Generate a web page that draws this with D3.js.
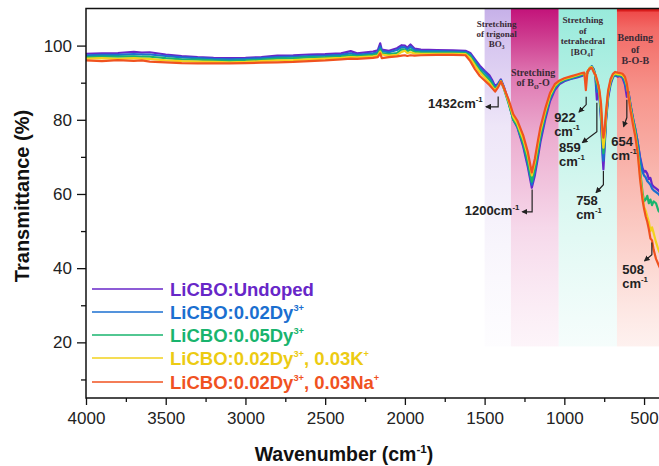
<!DOCTYPE html>
<html>
<head>
<meta charset="utf-8">
<script src="https://cdn.jsdelivr.net/npm/d3@7"></script>
<style>
  body { margin: 0; background: #fff; }
  svg { display: block; font-family: "Liberation Sans", Arial, sans-serif; }
</style>
</head>
<body>
<div id="chart"></div>
<script>
// FTIR spectra, wavenumber in cm-1 (descending) and transmittance in %
var wavenumber = [4000, 3900, 3800, 3700, 3650, 3600, 3500, 3400, 3300, 3200, 3100, 3000, 2900, 2800, 2700, 2600, 2500, 2400, 2340, 2300,
    2200, 2170, 2155, 2145, 2100, 2050, 2020, 2000, 1985, 1965, 1940, 1900, 1800, 1700, 1620, 1590, 1560, 1530, 1500, 1470,
    1450, 1434, 1415, 1398, 1380, 1350, 1320, 1295, 1258, 1230, 1204, 1185, 1165, 1150, 1120, 1090, 1060, 1030, 1000, 960,
    920, 890, 875, 865, 855, 840, 828, 815, 805, 796, 790, 780, 770, 760, 755, 748, 738, 725, 710, 695,
    681, 665, 650, 635, 620, 608, 598, 585, 570, 555, 540, 525, 510, 500, 490, 480, 470, 460, 450, 440,
    425, 410, 400];

var undoped = [97.8, 97.9, 98.0, 98.3, 98.1, 98.2, 97.6, 97.2, 96.9, 96.7, 96.6, 96.7, 96.9, 97.3, 97.4, 97.6, 97.7, 97.9, 98.5, 97.9,
    98.4, 98.7, 100.6, 98.9, 98.6, 99.3, 100.1, 100.0, 99.4, 100.3, 99.2, 98.9, 98.8, 98.7, 98.6, 98.0, 96.3, 94.6, 93.2, 92.0,
    90.5, 89.0, 89.8, 90.9, 89.0, 85.0, 80.0, 78.0, 72.8, 67.5, 61.7, 65.0, 70.0, 74.0, 80.0, 85.0, 88.0, 89.6, 90.4, 91.0,
    91.4, 91.8, 92.2, 91.5, 92.8, 93.8, 94.4, 93.6, 91.5, 85.4, 90.0, 86.5, 80.0, 70.0, 66.6, 72.0, 80.0, 86.0, 89.5, 91.5,
    92.0, 91.6, 91.8, 91.3, 89.5, 86.2, 87.5, 84.0, 80.5, 77.5, 74.0, 70.0, 67.0, 66.0, 66.2, 65.5, 64.0, 64.3, 62.5, 62.0,
    61.5, 61.0, 60.5];

var dy002 = [97.4, 97.5, 97.5, 97.7, 97.6, 97.6, 97.2, 96.8, 96.6, 96.4, 96.3, 96.4, 96.6, 96.9, 97.0, 97.2, 97.3, 97.5, 97.9, 97.5,
    97.9, 98.2, 99.8, 98.5, 98.2, 98.8, 99.6, 99.5, 99.0, 99.7, 98.8, 98.6, 98.5, 98.4, 98.3, 97.6, 95.8, 94.0, 92.8, 91.4,
    90.0, 88.6, 89.5, 90.7, 88.8, 84.8, 80.0, 78.2, 73.3, 68.3, 62.5, 66.0, 71.0, 75.0, 80.8, 85.6, 88.4, 89.9, 90.6, 91.1,
    91.6, 92.0, 92.4, 91.5, 92.9, 93.9, 94.4, 93.5, 91.8, 87.5, 89.8, 86.8, 81.0, 72.0, 69.0, 73.0, 80.5, 86.5, 90.0, 91.6,
    92.1, 91.8, 91.9, 91.5, 90.0, 88.0, 87.5, 84.0, 80.5, 77.5, 74.0, 69.5, 66.0, 65.0, 64.5, 63.5, 63.0, 62.5, 61.5, 61.0,
    60.5, 60.0, 59.5];

var dy005 = [96.9, 97.0, 97.0, 97.1, 97.0, 97.0, 96.6, 96.3, 96.2, 96.0, 95.9, 96.0, 96.2, 96.5, 96.6, 96.8, 96.9, 97.1, 97.4, 97.2,
    97.5, 97.8, 99.0, 98.0, 97.7, 98.0, 99.0, 98.9, 98.4, 99.0, 98.3, 98.2, 98.1, 98.1, 98.0, 97.2, 95.2, 93.4, 92.0, 90.8,
    89.4, 88.2, 89.2, 90.5, 88.5, 84.5, 80.0, 78.4, 73.8, 69.0, 63.3, 67.0, 72.0, 76.0, 81.5, 86.0, 88.8, 90.1, 90.8, 91.3,
    91.8, 92.2, 92.5, 91.0, 92.9, 93.9, 94.3, 93.2, 92.0, 89.5, 89.5, 87.0, 82.0, 74.0, 71.0, 74.0, 81.0, 87.0, 90.2, 91.8,
    92.3, 92.0, 92.0, 91.8, 90.8, 89.0, 87.0, 83.5, 80.0, 77.0, 72.5, 66.5, 60.5, 58.0, 58.5, 59.5, 57.5, 58.5, 57.0, 58.0,
    57.5, 55.5, 55.0];

var dyK = [96.5, 96.6, 96.4, 96.6, 96.5, 96.4, 96.0, 95.8, 95.7, 95.6, 95.5, 95.6, 95.8, 96.0, 96.1, 96.3, 96.5, 96.7, 96.9, 96.8,
    97.1, 97.3, 98.4, 97.6, 97.3, 97.5, 98.3, 98.6, 98.0, 98.2, 97.9, 97.8, 97.8, 97.8, 97.7, 96.6, 94.6, 92.8, 91.4, 90.0,
    88.8, 87.9, 89.0, 90.4, 88.6, 85.0, 80.8, 79.0, 74.8, 70.5, 65.0, 68.5, 73.5, 77.0, 82.2, 86.6, 89.2, 90.4, 91.0, 91.5,
    92.0, 92.4, 92.6, 90.5, 93.0, 94.0, 94.2, 93.0, 92.0, 90.5, 89.8, 87.5, 83.0, 75.0, 72.5, 75.0, 81.5, 87.5, 90.5, 92.0,
    92.5, 92.3, 92.2, 92.0, 91.2, 89.5, 86.8, 83.0, 79.5, 76.0, 71.5, 65.0, 59.5, 56.5, 55.5, 54.0, 52.5, 50.0, 51.0, 49.5,
    47.0, 45.0, 44.0];

var dyNa = [96.0, 95.8, 96.1, 95.9, 96.0, 95.7, 95.5, 95.3, 95.2, 95.2, 95.2, 95.3, 95.4, 95.5, 95.6, 95.8, 96.0, 96.3, 96.5, 96.4,
    96.7, 96.9, 97.9, 96.6, 96.9, 97.1, 97.3, 97.4, 97.2, 97.4, 97.3, 97.4, 97.5, 97.5, 97.4, 95.8, 93.6, 91.8, 90.6, 89.4,
    88.4, 87.6, 88.8, 90.3, 88.7, 85.5, 81.5, 79.8, 75.8, 71.5, 65.8, 69.5, 74.5, 78.0, 83.0, 87.2, 89.6, 90.6, 91.2, 91.7,
    92.2, 92.6, 92.7, 88.0, 93.0, 93.9, 94.0, 92.8, 92.2, 91.0, 90.0, 88.0, 84.5, 77.0, 75.2, 77.0, 82.5, 88.0, 91.0, 92.4,
    92.9, 92.7, 92.6, 92.4, 91.6, 89.8, 86.5, 82.5, 78.8, 75.5, 71.0, 64.0, 58.5, 56.0, 54.0, 52.5, 50.5, 48.0, 47.5, 45.0,
    42.5, 41.0, 40.0];

var seriesNames = ["LiCBO:Undoped", "LiCBO:0.02Dy^3+^", "LiCBO:0.05Dy^3+^", "LiCBO:0.02Dy^3+^, 0.03K^+^", "LiCBO:0.02Dy^3+^, 0.03Na^+^"];
var seriesColors = ["#6726c8", "#1b6fd0", "#19b46e", "#f2d21c", "#f0521f"];
var seriesValues = [undoped, dy002, dy005, dyK, dyNa];

var xTicks = [4000, 3500, 3000, 2500, 2000, 1500, 1000, 500];
var xMinorTicks = [3750, 3250, 2750, 2250, 1750, 1250, 750];
var yTicks = [20, 40, 60, 80, 100];
var yMinorTicks = [10, 30, 50, 70, 90];

// shaded vibration bands: [from, to] in cm-1
var bandRanges = [[1500, 1335], [1335, 1035], [1035, 670], [670, 380]];
var bandLabels = [
    ["Stretching", "of trigonal", "BO_3_"],
    ["Stretching", "of B_Ø_-O"],
    ["Stretching", "of", "tetrahedral", "[BO_4_]^-^"],
    ["Bending", "of", "B-O-B"]
];

var w = 659, h = 466;
var plotL = 86, plotR = 660, plotT = 8.5, plotB = 398;

var svg = d3.select("#chart")
    .append("svg")
    .attr("width", w)
    .attr("height", h);

var x = d3.scaleLinear().domain([4000, 400]).range([plotL, plotR]);
var y = d3.scaleLinear().domain([5, 110]).range([plotB, plotT]);

// text with ^sup^ and _sub_ pieces
function richText(sel, str, size, supScale) {
    var k = supScale || 0.6;
    var parts = str.split(/(\^[^\^]*\^|_[^_]*_)/).filter(function(s) { return s.length; });
    var shift = 0;
    parts.forEach(function(p) {
        var target = 0, fs = size;
        if (p[0] === "^") { target = -size * 0.42; fs = size * k; p = p.slice(1, -1); }
        else if (p[0] === "_") { target = size * 0.22; fs = size * k; p = p.slice(1, -1); }
        sel.append("tspan").attr("dy", target - shift).attr("font-size", fs).text(p);
        shift = target;
    });
}

var defs = svg.append("defs");

defs.append("clipPath").attr("id", "plotclip")
    .append("rect").attr("x", plotL).attr("y", plotT).attr("width", plotR - plotL).attr("height", plotB - plotT);

var bandStops = [
    [["0", "#c6b0e8", 1], ["0.12", "#d8c8f0", 1], ["0.35", "#eee6f8", 1], ["0.7", "#f8f5fc", 1], ["1", "#fcfbfe", 0.6]],
    [["0", "#c3137a", 1], ["0.08", "#cd3a8e", 1], ["0.2", "#df78b2", 1], ["0.38", "#ecaed0", 1], ["0.65", "#f6d8ea", 1], ["1", "#fcf0f7", 0.7]],
    [["0", "#98eadb", 1], ["0.25", "#b6f1e5", 1], ["0.55", "#d8f7f0", 1], ["1", "#f1fcfa", 0.7]],
    [["0", "#ee4444", 1], ["0.06", "#f26a66", 1], ["0.25", "#f7958c", 1], ["0.5", "#f9b8b0", 1], ["0.75", "#fcd6d0", 1], ["1", "#fdebe8", 0.7]]
];

bandStops.forEach(function(stops, i) {
    var g = defs.append("linearGradient").attr("id", "band" + i)
        .attr("x1", 0).attr("x2", 0).attr("y1", 0).attr("y2", 1);
    stops.forEach(function(s) {
        g.append("stop").attr("offset", s[0]).attr("stop-color", s[1]).attr("stop-opacity", s[2]);
    });
});

var bandBottom = 18.9;

svg.append("g").attr("clip-path", "url(#plotclip)")
    .selectAll("rect")
    .data(bandRanges)
    .enter()
    .append("rect")
    .attr("x", function(d) { return x(d[0]); })
    .attr("width", function(d) { return x(d[1]) - x(d[0]); })
    .attr("y", y(110))
    .attr("height", y(bandBottom) - y(110))
    .attr("fill", function(d, i) { return "url(#band" + i + ")"; });

// dark red strip at top of the bending band
svg.append("rect")
    .attr("x", x(670)).attr("width", plotR - x(670))
    .attr("y", y(110)).attr("height", 3)
    .attr("fill", "#d81c1c");

// band captions
var captionPos = [
    { wn: 1425, t: [105.0, 102.3, 99.6], size: 9 },
    { wn: 1196, t: [91.9, 89.0], size: 10 },
    { wn: 884, t: [106.2, 103.2, 100.5, 97.4], size: 9.2 },
    { wn: 555, t: [101.2, 98.0, 95.0], size: 10 }
];

bandLabels.forEach(function(lines, i) {
    lines.forEach(function(line, j) {
        var t = svg.append("text")
            .attr("x", x(captionPos[i].wn))
            .attr("y", y(captionPos[i].t[j]))
            .attr("text-anchor", "middle")
            .attr("font-family", "'Liberation Serif', 'Times New Roman', serif")
            .attr("font-weight", "bold")
            .attr("fill", "#3a2a36");
        richText(t, line, captionPos[i].size);
    });
});

// spectra
var line = d3.line()
    .x(function(d, i) { return x(wavenumber[i]); })
    .y(function(d) { return y(d); })
    .curve(d3.curveLinear);

svg.append("g").attr("clip-path", "url(#plotclip)")
    .selectAll("path")
    .data(seriesValues)
    .enter()
    .append("path")
    .attr("d", line)
    .attr("fill", "none")
    .attr("stroke", function(d, i) { return seriesColors[i]; })
    .attr("stroke-width", 2.2)
    .attr("stroke-linejoin", "round");

// axes
svg.append("g")
    .attr("transform", "translate(0," + plotB + ")")
    .call(d3.axisBottom(x).tickValues(xTicks).tickSize(7).tickPadding(7).tickFormat(d3.format("d")));
svg.append("g")
    .attr("transform", "translate(0," + plotB + ")")
    .call(d3.axisBottom(x).tickValues(xMinorTicks).tickSize(4).tickFormat(""));

svg.append("g")
    .attr("transform", "translate(" + plotL + ",0)")
    .call(d3.axisLeft(y).tickValues(yTicks).tickSize(9).tickPadding(5));
svg.append("g")
    .attr("transform", "translate(" + plotL + ",0)")
    .call(d3.axisLeft(y).tickValues(yMinorTicks).tickSize(5).tickFormat(""));

svg.selectAll(".domain").remove();
svg.selectAll(".tick line").attr("stroke", "#111").attr("stroke-width", 1.3);
svg.selectAll(".tick text")
    .attr("font-family", "'Liberation Sans', Arial, sans-serif")
    .attr("font-size", 17)
    .attr("fill", "#222");

// frame lines (left, bottom, top)
svg.append("path")
    .attr("d", "M" + plotR + "," + plotT + "H" + plotL + "V" + plotB + "H" + plotR)
    .attr("fill", "none")
    .attr("stroke", "#111")
    .attr("stroke-width", 1.5);

// axis titles
svg.append("text")
    .attr("transform", "translate(29,196) rotate(-90)")
    .attr("text-anchor", "middle")
    .attr("font-size", 20)
    .attr("font-weight", "bold")
    .attr("fill", "#111")
    .text("Transmittance (%)");

var xt = svg.append("text")
    .attr("x", 344)
    .attr("y", 461)
    .attr("text-anchor", "middle")
    .attr("font-weight", "bold")
    .attr("fill", "#111");
richText(xt, "Wavenumber (cm^-1^)", 19.5);

// legend
var legendY = [289, 312, 335, 358, 382];
seriesNames.forEach(function(name, i) {
    svg.append("line")
        .attr("x1", 92).attr("x2", 163)
        .attr("y1", legendY[i]).attr("y2", legendY[i])
        .attr("stroke", seriesColors[i])
        .attr("stroke-width", 1.6);
    var t = svg.append("text")
        .attr("x", 170)
        .attr("y", legendY[i] + 6.5)
        .attr("font-weight", "bold")
        .attr("fill", seriesColors[i] === "#f2d21c" ? "#eccb12" : seriesColors[i]);
    richText(t, name, 18.5, 0.5);
});

// peak annotations: arrow path points [wn, T], label lines and label anchor
var annotations = [
    { path: [[1415, 86.3], [1415, 83.5], [1490, 83.5]], lines: ["1432cm^-1^"], at: [1512, 83.3], anchor: "end" },
    { path: [[1202, 61.2], [1202, 55.2], [1262, 55.2]], lines: ["1200cm^-1^"], at: [1282, 54.2], anchor: "end" },
    { path: [[863, 86.2], [863, 84.1], [907, 82.1]], lines: ["922", "cm^-1^"], at: [1064, 79.5], anchor: "start" },
    { path: [[796, 84.6], [796, 76.8], [886, 73.9]], lines: ["859", "cm^-1^"], at: [1033, 71.4], anchor: "start" },
    { path: [[755, 66.2], [755, 62.5], [800, 60.4]], lines: ["758", "cm^-1^"], at: [926, 57.1], anchor: "start" },
    { path: [[608, 85.4], [608, 80.6], [628, 78.2]], lines: ["654", "cm^-1^"], at: [706, 73.0], anchor: "start" },
    { path: [[451, 46.9], [451, 43.6], [496, 42.0]], lines: ["508", "cm^-1^"], at: [637, 38.5], anchor: "start" }
];

defs.append("marker")
    .attr("id", "arrowhead")
    .attr("viewBox", "0 0 10 10")
    .attr("refX", 8).attr("refY", 5)
    .attr("markerWidth", 5).attr("markerHeight", 5)
    .attr("orient", "auto")
    .append("path")
    .attr("d", "M0,0L10,5L0,10z")
    .attr("fill", "#222");

annotations.forEach(function(a) {
    svg.append("path")
        .attr("d", d3.line().x(function(p) { return x(p[0]); }).y(function(p) { return y(p[1]); })(a.path))
        .attr("fill", "none")
        .attr("stroke", "#222")
        .attr("stroke-width", 1.2)
        .attr("marker-end", "url(#arrowhead)");
    a.lines.forEach(function(l, j) {
        var t = svg.append("text")
            .attr("x", x(a.at[0]))
            .attr("y", y(a.at[1]) + j * 14)
            .attr("text-anchor", a.anchor)
            .attr("font-weight", "bold")
            .attr("fill", "#222");
        richText(t, l, 13);
    });
});
</script>
</body>
</html>
